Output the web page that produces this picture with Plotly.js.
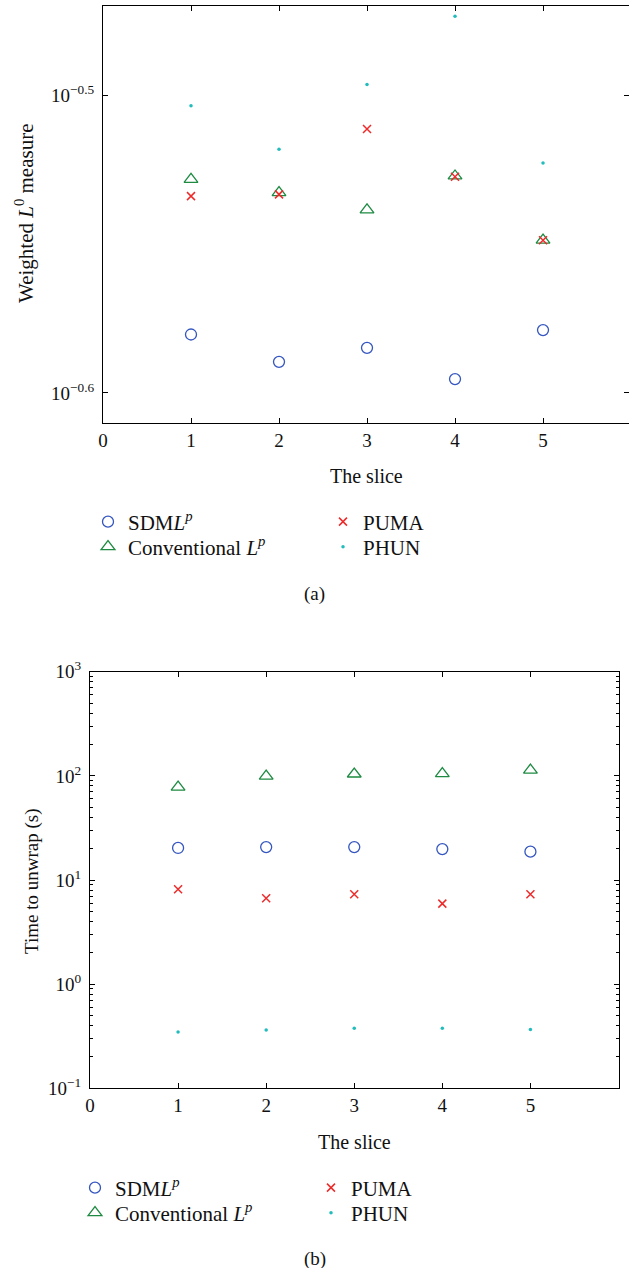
<!DOCTYPE html>
<html>
<head>
<meta charset="utf-8">
<script src="https://cdn.plot.ly/plotly-3.0.1.min.js"></script>
<style>html,body{margin:0;padding:0;background:#fff;}#chart{width:629px;height:1268px;}</style>
</head>
<body>
<div id="chart"></div>
<script>
// ---- Data ----
const slices = [1, 2, 3, 4, 5];

// (a) Weighted L0 measure
const measureSDML = [0.2628, 0.2573, 0.2601, 0.2539, 0.2637];
const measureConv = [0.2963, 0.2933, 0.2894, 0.2971, 0.2827];
const measurePUMA = [0.2925, 0.2929, 0.3081, 0.2969, 0.2827];
const measurePHUN = [0.3137, 0.3033, 0.3189, 0.3362, 0.3001];

// (b) Time to unwrap (s)
const timeSDML = [20.3, 20.7, 20.7, 19.8, 18.7];
const timeConv = [78.1, 99.6, 104.2, 105.0, 113.7];
const timePUMA = [8.14, 6.67, 7.29, 5.93, 7.29];
const timePHUN = [0.347, 0.363, 0.377, 0.377, 0.366];

const xTicks = [0, 1, 2, 3, 4, 5];
const xTickText = ['0', '1', '2', '3', '4', '5'];
const yTopTickVals = [Math.pow(10, -0.6), Math.pow(10, -0.5)];
const yTopTickText = ['10<sup>\u22120.6</sup>', '10<sup>\u22120.5</sup>'];
const yBotTickVals = [0.1, 1, 10, 100, 1000];
const yBotTickText = ['10<sup>\u22121</sup>', '10<sup>0</sup>', '10<sup>1</sup>', '10<sup>2</sup>', '10<sup>3</sup>'];

const names = ['SDM<i>L</i><sup><i>p</i></sup>', 'Conventional <i>L</i><sup><i>p</i></sup>', 'PUMA', 'PHUN'];

// ---- Styles ----
const FONT = 'Liberation Serif, Times New Roman, serif';
const BLUE = '#3556c0', GREEN = '#1e8a42', RED = '#ee2b2b', CYAN = '#22bcbc';

function mk(x, y, name, sym, color, size, legend, xa, ya, lw) {
  return {
    x: x, y: y, name: name, type: 'scatter', mode: 'markers',
    xaxis: xa, yaxis: ya, legend: legend,
    marker: {symbol: sym, color: color, size: size, line: {color: color, width: lw}},
    hoverinfo: 'skip'
  };
}

const traces = [
  mk(slices, measureSDML, names[0], 'circle-open', BLUE, 11, 'legend', 'x', 'y', 1.3),
  mk(slices, measureConv, names[1], 'triangle-up-open', GREEN, 12, 'legend2', 'x', 'y', 1.3),
  mk(slices, measurePUMA, names[2], 'x-thin-open', RED, 8, 'legend3', 'x', 'y', 1.5),
  mk(slices, measurePHUN, names[3], 'circle', CYAN, 3.5, 'legend4', 'x', 'y', 0),
  mk(slices, timeSDML, names[0], 'circle-open', BLUE, 11, 'legend5', 'x2', 'y2', 1.3),
  mk(slices, timeConv, names[1], 'triangle-up-open', GREEN, 12, 'legend6', 'x2', 'y2', 1.3),
  mk(slices, timePUMA, names[2], 'x-thin-open', RED, 8, 'legend7', 'x2', 'y2', 1.5),
  mk(slices, timePHUN, names[3], 'circle', CYAN, 3.5, 'legend8', 'x2', 'y2', 0)
];

const W = 629, H = 1268;
const px = v => v / W;
const py = v => 1 - v / H;

const axBase = {
  showline: true, linecolor: '#000', linewidth: 1, mirror: 'ticks',
  ticks: 'inside', ticklen: 5, tickcolor: '#000', tickwidth: 1,
  showgrid: false, zeroline: false,
  tickfont: {family: FONT, size: 19, color: '#111'}
};

const minorVals = [];
[0.1, 1, 10, 100].forEach(d => { for (let k = 2; k <= 9; k++) minorVals.push(d * k); });

function leg(xp, yp) {
  return {
    orientation: 'v', xanchor: 'left', yanchor: 'middle',
    x: px(xp), y: py(yp),
    font: {family: FONT, size: 21, color: '#111'},
    bgcolor: 'rgba(0,0,0,0)', itemclick: false
  };
}

function ann(text, x, y, size, angle) {
  return {text: text, x: px(x), y: py(y), xref: 'paper', yref: 'paper',
    xanchor: 'center', yanchor: 'middle', showarrow: false, textangle: angle || 0,
    font: {family: FONT, size: size, color: '#111'}};
}

const layout = {
  width: W, height: H,
  margin: {l: 0, r: 0, t: 0, b: 0},
  paper_bgcolor: '#fff', plot_bgcolor: '#fff',
  showlegend: true,
  xaxis: Object.assign({}, axBase, {
    domain: [px(103), 1], range: [0, 5.977], anchor: 'y',
    tickmode: 'array', tickvals: xTicks, ticktext: xTickText
  }),
  yaxis: Object.assign({}, axBase, {
    domain: [py(423), py(6)], type: 'log', range: [-0.6101, -0.4700], anchor: 'x',
    tickmode: 'array', tickvals: yTopTickVals, ticktext: yTopTickText, ticklabelstandoff: 4
  }),
  xaxis2: Object.assign({}, axBase, {
    domain: [px(90), px(618.5)], range: [0, 6], anchor: 'y2',
    tickmode: 'array', tickvals: xTicks, ticktext: xTickText
  }),
  yaxis2: Object.assign({}, axBase, {
    domain: [py(1088.3), py(671.7)], type: 'log', range: [-1, 3], anchor: 'x2',
    tickmode: 'array', tickvals: yBotTickVals, ticktext: yBotTickText, ticklabelstandoff: 4,
    minor: {tickmode: 'array', tickvals: minorVals, ticks: 'inside', ticklen: 3, tickcolor: '#000', showgrid: false}
  }),
  legend: leg(88, 522),
  legend2: leg(88, 547),
  legend3: leg(323, 522),
  legend4: leg(323, 547),
  legend5: leg(75, 1188),
  legend6: leg(75, 1213),
  legend7: leg(311, 1188),
  legend8: leg(311, 1213),
  annotations: [
    ann('Weighted <i>L</i><sup>0</sup> measure', 24, 214, 21, -90),
    ann('The slice', 366, 476, 20),
    ann('(a)', 315, 594, 19),
    ann('Time to unwrap (s)', 32, 881, 19, -90),
    ann('The slice', 354, 1142, 20),
    ann('(b)', 315, 1259, 19)
  ]
};

Plotly.newPlot('chart', traces, layout, {staticPlot: true, displayModeBar: false});
</script>
</body>
</html>
